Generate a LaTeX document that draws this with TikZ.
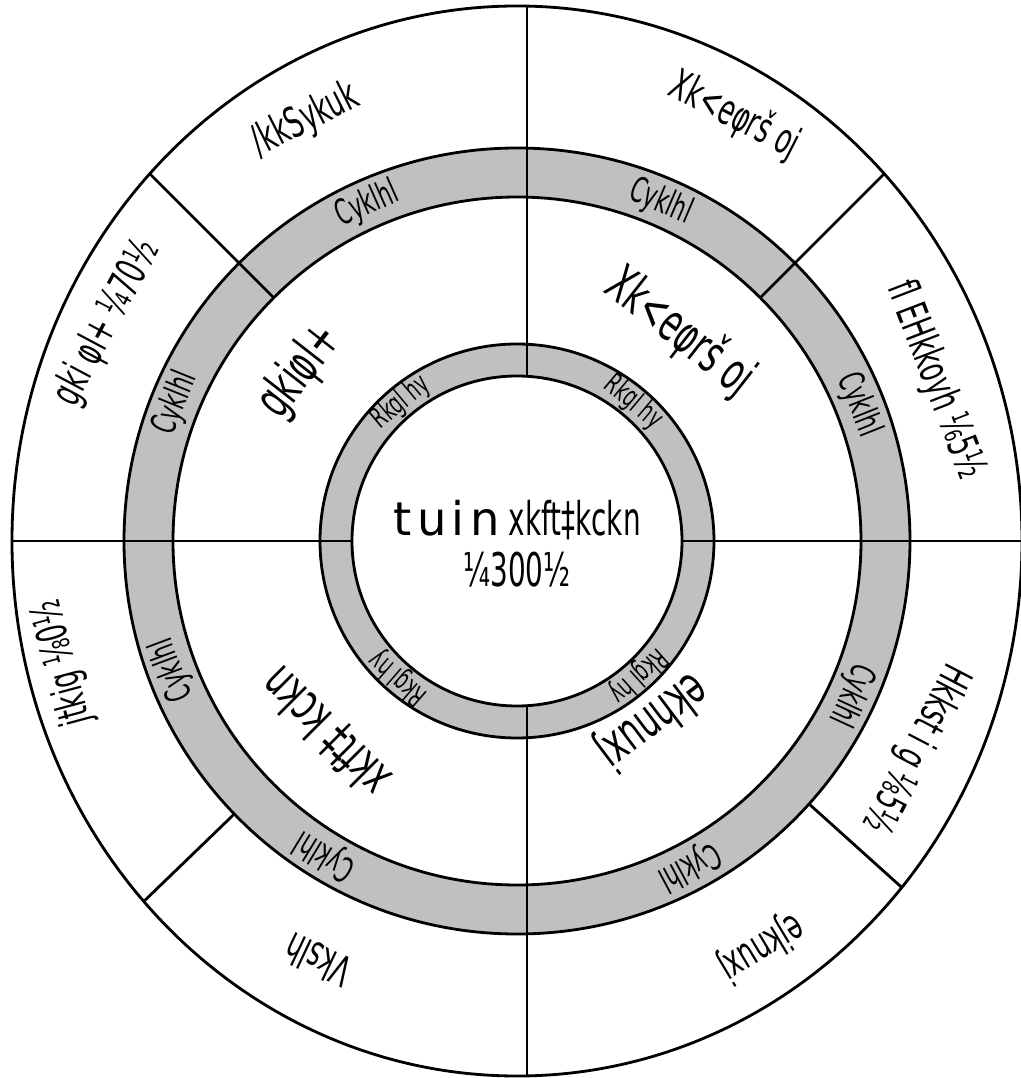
\documentclass[tikz,border=0pt]{standalone}
\usepackage{fontspec}
\newfontfamily\condfont{DejaVu Sans}[FakeStretch=0.6]
\newfontfamily\widefont{DejaVu Sans}[LetterSpace=12]
\definecolor{ringgray}{RGB}{192,192,192}

\begin{document}
\begin{tikzpicture}[x=0.025cm, y=0.025cm, line width=2pt,
        outerlbl/.style={font=\condfont\fontsize{30}{32}\selectfont, inner sep=0pt},
        midlbl/.style={font=\condfont\fontsize{37}{39}\selectfont, inner sep=0pt},
        ringlbl/.style={font=\condfont\fontsize{25}{27}\selectfont, inner sep=0pt},
        hublbl/.style={font=\condfont\fontsize{21}{23}\selectfont, inner sep=0pt}]
        \useasboundingbox (-517,-537) rectangle (503,541);
        \fill[white] (-517,-537) rectangle (503,541);

        % rings and dividers
        \fill[white] (0,0) ellipse [x radius=505, y radius=535];
        \fill[ringgray, even odd rule] (0,0) circle (393) circle (344);
        \fill[ringgray, even odd rule] (0,0) circle (197) circle (165);
        \begin{scope}
            \clip (0,0) ellipse [x radius=505, y radius=535];
            \draw (10,-600) -- (10,600);
            \draw (-600,0) -- (600,0);
            \foreach \a in {45,135} \draw (\a:344) -- (\a:560);
            \foreach \a in {-42,224} \draw (\a:393) -- (\a:560);
        \end{scope}
        \draw[fill=white] (0,0) circle (165);
        \draw (0,0) circle (197);
        \draw (0,0) circle (344);
        \draw (0,0) circle (393);
        \draw (0,0) ellipse [x radius=505, y radius=535];

        % centre
        \node[align=center, font=\condfont\fontsize{33}{36}\selectfont, inner sep=0pt] (hub) at (0,-3) {{\widefont tuin} xkft‡kckn\\¼300½};

        % inner ring
        \node[hublbl, rotate=40] (hubNW) at (130:181) {Rkgl hy};
        \node[hublbl, rotate=-40] (hubNE) at (50:181) {Rkgl hy};
        \node[hublbl, rotate=139] (hubSW) at (229:181) {Rkgl hy};
        \node[hublbl, rotate=-138] (hubSE) at (-48:181) {Rkgl hy};

        % quadrants
        \node[midlbl, rotate=52] (midNW) at (142:275) {gkiφl+};
        \node[midlbl, rotate=-38] (midNE) at (52:265) {Xk<eφrš oj};
        \node[midlbl, rotate=135] (midSW) at (225:270) {xkft‡ kckn};
        \node[midlbl, rotate=-143] (midSE) at (-53:224) {ekhnuxj};

        % gray ring
        \foreach \a [count=\i] in {114,67,158,21.7,200.5,-24.7,238.6,-62}
            \node[ringlbl, rotate=\a-90] (cyc\i) at (\a:368) {Cyklhl};

        % outer ring
        \node[outerlbl, rotate=26.7] (outA) at (116.7:471) {/kkSykuk};
        \node[outerlbl, rotate=-27.1] (outB) at (62.9:478) {Xk<eφrš oj};
        \node[outerlbl, rotate=-69] (outC) at (21:448) {fl EHkkoyh ⅙5½};
        \node[outerlbl, rotate=-117.5] (outD) at (-27.5:449) {Hkkst i g ⅛5½};
        \node[outerlbl, rotate=-149] (outE) at (-59:474) {ejknuxj};
        \node[outerlbl, rotate=154.6] (outF) at (244.6:464) {Vkslh};
        \node[outerlbl, rotate=105] (outG) at (195:470) {jtkig ⅛0½};
        \node[outerlbl, rotate=62] (outH) at (152:464) {gki φl+ ¼70½};
\end{tikzpicture}
\end{document}
